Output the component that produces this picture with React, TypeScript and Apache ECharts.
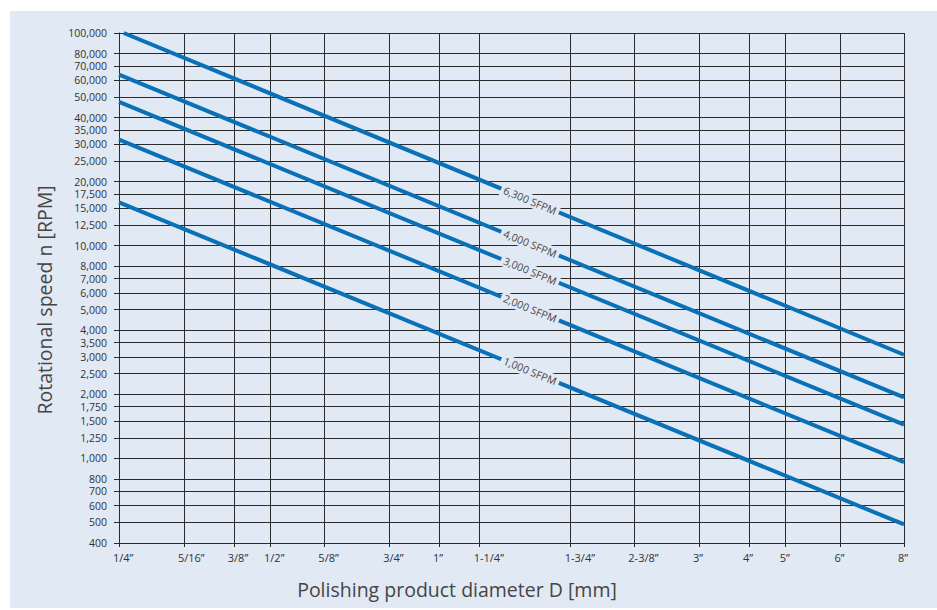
import React, { useEffect, useRef } from 'react';
import * as echarts from 'echarts';

// X tick positions (diameter, inches, as placed on the reference chart) and their labels
const xTickPositions = [0.25, 0.333, 0.415, 0.487, 0.619, 0.824, 1.027, 1.229, 1.837, 2.432, 3.236, 4.035, 4.746, 6.041, 8];
const xTickLabels = ['1/4”', '5/16”', '3/8”', '1/2”', '5/8”', '3/4”', '1”', '1-1/4”', '1-3/4”', '2-3/8”', '3”', '4”', '5”', '6”', '8”'];

// Y tick values (RPM)
const yTickValues = [
  100000, 80000, 70000, 60000, 50000, 40000, 35000, 30000, 25000, 20000, 17500, 15000, 12500, 10000,
  8000, 7000, 6000, 5000, 4000, 3500, 3000, 2500, 2000, 1750, 1500, 1250, 1000, 800, 700, 600, 500, 400,
];

// Lines (surface speed)
const seriesNames = ['1,000 SFPM', '2,000 SFPM', '3,000 SFPM', '4,000 SFPM', '6,300 SFPM'];
const lineStartDiameter = [0.25, 0.25, 0.25, 0.25, 0.2553];
const lineStartRpm = [15980, 31500, 47400, 63700, 100000];
const lineEndDiameter = [8, 8, 8, 8, 8];
const lineEndRpm = [489, 960, 1440, 1935, 3070];
const labelDiameter = 1.535;

const xMinD = 0.25;
const xMaxD = 8;
const yMinRpm = 400;
const yMaxRpm = 100000;

const BG = '#e1e9f4';
const GRID = '#2b2b2b';
const BLUE = '#0a70b8';
const TEXT = '#333333';
const FONT = '"Open Sans", "Noto Sans", sans-serif';

const L = (v: number) => Math.log10(v);

export default function App() {
  const ref = useRef<HTMLDivElement>(null);

  useEffect(() => {
    if (!ref.current) return;
    const chart = echarts.init(ref.current, undefined, { renderer: 'svg' });

    const xTickLog = xTickPositions.map(L);
    const yTickLog = yTickValues.map(L);

    const nearestIndex = (arr: number[], v: number) => {
      let best = 0;
      let bd = Infinity;
      arr.forEach((a, i) => {
        const d = Math.abs(a - v);
        if (d < bd) {
          bd = d;
          best = i;
        }
      });
      return best;
    };

    const option: any = {
      animation: false,
      backgroundColor: '#ffffff',
      textStyle: { fontFamily: FONT },
      graphic: [
        {
          type: 'rect',
          z: -10,
          shape: { x: 10, y: 11, width: 927, height: 597 },
          style: { fill: BG },
          silent: true,
        },
        {
          type: 'text',
          x: 44,
          y: 300,
          rotation: Math.PI / 2,
          style: {
            text: 'Rotational speed n [RPM]',
            fontSize: 19.5,
            fill: '#454545',
            align: 'center',
            verticalAlign: 'middle',
            fontFamily: FONT,
          },
        },
        {
          type: 'text',
          x: 457,
          y: 589,
          style: {
            text: 'Polishing product diameter D [mm]',
            fontSize: 19.5,
            fill: '#454545',
            align: 'center',
            verticalAlign: 'middle',
            fontFamily: FONT,
          },
        },
      ],
      grid: { left: 119, top: 33, width: 785, height: 510, containLabel: false },
      xAxis: {
        type: 'value',
        min: L(xMinD),
        max: L(xMaxD),
        axisLine: { show: true, onZero: false, lineStyle: { color: GRID, width: 1 } },
        axisTick: { show: true, customValues: xTickLog, length: 4, lineStyle: { color: GRID } },
        axisLabel: {
          customValues: xTickLog,
          interval: 0,
          hideOverlap: false,
          fontSize: 11,
          color: TEXT,
          margin: 9,
          align: 'left',
          padding: [0, 0, 0, -6],
          formatter: (v: number) => xTickLabels[nearestIndex(xTickLog, v)],
        },
        splitLine: { show: true, lineStyle: { color: GRID, width: 1 } },
      },
      yAxis: {
        type: 'value',
        min: L(yMinRpm),
        max: L(yMaxRpm),
        axisLine: { show: true, onZero: false, lineStyle: { color: GRID, width: 1 } },
        axisTick: { show: true, customValues: yTickLog, length: 5, lineStyle: { color: GRID } },
        axisLabel: {
          customValues: yTickLog,
          interval: 0,
          hideOverlap: false,
          fontSize: 10.5,
          lineHeight: 11,
          color: TEXT,
          margin: 12,
          formatter: (v: number) => yTickValues[nearestIndex(yTickLog, v)].toLocaleString('en-US'),
        },
        splitLine: { show: true, lineStyle: { color: GRID, width: 1 } },
      },
      series: seriesNames.map((name, i) => ({
        type: 'line',
        name,
        silent: true,
        symbol: 'none',
        showSymbol: false,
        lineStyle: { color: BLUE, width: 4, cap: 'butt' },
        data: [
          [L(lineStartDiameter[i]), L(lineStartRpm[i])],
          [L(lineEndDiameter[i]), L(lineEndRpm[i])],
        ],
      })),
    };

    chart.setOption(option);

    // label anchors along each line, rotated to follow it
    const seriesUpdate = seriesNames.map((name, i) => {
      const x0 = L(lineStartDiameter[i]);
      const y0 = L(lineStartRpm[i]);
      const x1 = L(lineEndDiameter[i]);
      const y1 = L(lineEndRpm[i]);
      const lx = L(labelDiameter);
      const t = (lx - x0) / (x1 - x0);
      const ly = y0 + t * (y1 - y0);
      const p0 = chart.convertToPixel({ gridIndex: 0 }, [x0, y0]) as number[];
      const p1 = chart.convertToPixel({ gridIndex: 0 }, [x1, y1]) as number[];
      const angle = (-Math.atan2(p1[1] - p0[1], p1[0] - p0[0]) * 180) / Math.PI;
      return {
        markPoint: {
          silent: true,
          symbol: 'rect',
          symbolSize: 1,
          itemStyle: { color: 'rgba(0,0,0,0)' },
          label: {
            show: true,
            position: 'inside',
            formatter: name,
            rotate: angle,
            color: '#444444',
            fontSize: 10.5,
            backgroundColor: BG,
            padding: [1, 3],
          },
          data: [{ coord: [lx, ly] }],
        },
      };
    });
    chart.setOption({ series: seriesUpdate });

    return () => chart.dispose();
  }, []);

  return (
    <div
      ref={ref}
      style={{ position: 'absolute', left: 0, top: 0, width: 937, height: 610 }}
    />
  );
}
